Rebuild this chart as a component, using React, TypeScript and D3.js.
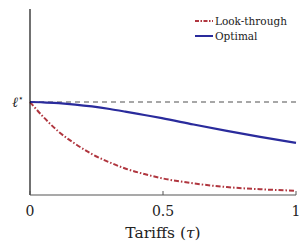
import React from "react";
import * as d3 from "d3";

const W = 299;
const H = 246;
const MARGIN = { top: 9, right: 3, bottom: 51, left: 30 };

const tau = [0, 0.05, 0.108, 0.17, 0.233, 0.3, 0.358, 0.43, 0.496, 0.615, 0.74, 0.865, 1];
const lookThrough = [1, 0.84, 0.68, 0.55, 0.44, 0.35, 0.285, 0.225, 0.18, 0.125, 0.085, 0.062, 0.046];
const optimal = [1, 0.997, 0.987, 0.972, 0.952, 0.925, 0.897, 0.86, 0.826, 0.758, 0.69, 0.625, 0.56];
const xTicks = [0, 0.5, 1];
const lStar = 1;

export default function App() {
  const bw = W - MARGIN.left - MARGIN.right;
  const bh = H - MARGIN.top - MARGIN.bottom;

  const x = d3.scaleLinear().domain([0, 1]).range([0, bw]);
  const y = d3.scaleLinear().domain([0, 2]).range([bh, 0]);

  const line = d3
    .line<number>()
    .x((_, i) => x(tau[i]))
    .y((d) => y(d))
    .curve(d3.curveMonotoneX);

  const font = "'DejaVu Serif', serif";

  return (
    <svg
      width={W}
      height={H}
      style={{ position: "absolute", left: 0, top: 0, background: "#fff", fontFamily: font }}
    >
      <g transform={`translate(${MARGIN.left},${MARGIN.top})`}>
        {/* reference level */}
        <line
          x1={0}
          x2={bw}
          y1={y(lStar)}
          y2={y(lStar)}
          stroke="#8a8a8a"
          strokeWidth={1.5}
          strokeDasharray="5,4"
        />
        <path
          d={line(lookThrough) || ""}
          fill="none"
          stroke="#b0363f"
          strokeWidth={2}
          strokeDasharray="5,2,1.5,2"
        />
        <path d={line(optimal) || ""} fill="none" stroke="#2a2b9c" strokeWidth={2.2} />

        {/* axes */}
        <line x1={0} x2={0} y1={0} y2={bh} stroke="#111" strokeWidth={1.2} />
        <line x1={0} x2={bw} y1={bh} y2={bh} stroke="#555" strokeWidth={1.2} />
        {xTicks.map((t) => (
          <g key={t} transform={`translate(${x(t)},${bh})`}>
            <line y1={0} y2={-4} stroke="#555" strokeWidth={1} />
            <text y={21} textAnchor="middle" fontSize={14} fill="#222">
              {t}
            </text>
          </g>
        ))}
        <text x={-6} y={y(lStar) + 5} textAnchor="end" fontSize={14} fill="#222">
          <tspan fontStyle="italic">ℓ</tspan>
          <tspan fontSize={9} dy={-6}>⋆</tspan>
        </text>
        <text x={bw / 2} y={bh + 43} textAnchor="middle" fontSize={15.5} fill="#222">
          Tariffs (<tspan fontStyle="italic">τ</tspan>)
        </text>

        {/* legend */}
        <g transform={`translate(${165},${12})`}>
          <line x1={0} x2={18} y1={0} y2={0} stroke="#b0363f" strokeWidth={2} strokeDasharray="4,1.5,1.5,1.5" />
          <text x={20} y={4} fontSize={10.5} fill="#222">Look-through</text>
          <line x1={0} x2={18} y1={15} y2={15} stroke="#2a2b9c" strokeWidth={2} />
          <text x={20} y={19} fontSize={10.5} fill="#222">Optimal</text>
        </g>
      </g>
    </svg>
  );
}
